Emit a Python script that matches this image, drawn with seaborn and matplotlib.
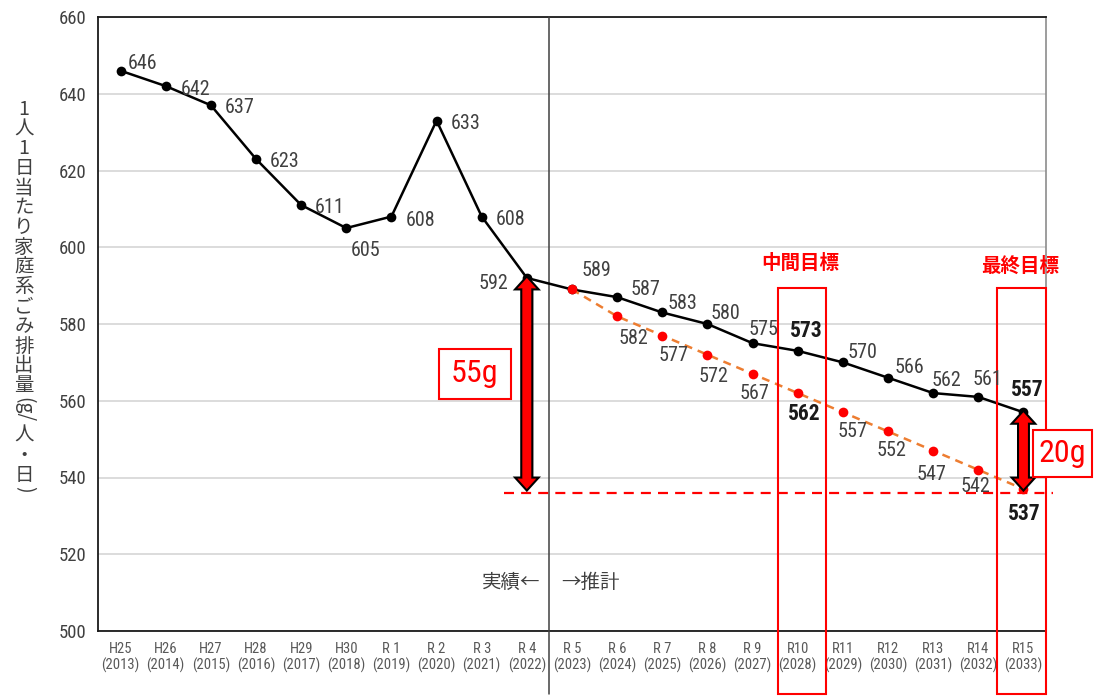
import numpy as np
import pandas as pd
import matplotlib
matplotlib.use("Agg")
import matplotlib.pyplot as plt
from matplotlib import font_manager as fm
from matplotlib.patches import Rectangle, FancyArrowPatch, ArrowStyle
import seaborn as sns

# ---- data -------------------------------------------------------------
era_labels = ["H25", "H26", "H27", "H28", "H29", "H30", "R 1", "R 2", "R 3", "R 4",
              "R 5", "R 6", "R 7", "R 8", "R 9", "R10", "R11", "R12", "R13", "R14", "R15"]
years = [2013, 2014, 2015, 2016, 2017, 2018, 2019, 2020, 2021, 2022,
         2023, 2024, 2025, 2026, 2027, 2028, 2029, 2030, 2031, 2032, 2033]
# actual results up to R4, trend projection afterwards (g per person per day)
trend_values = [646, 642, 637, 623, 611, 605, 608, 633, 608, 592,
                589, 587, 583, 580, 575, 573, 570, 566, 562, 561, 557]
# reduction target path from R5 to R15
target_start = 10
target_values = [589, 582, 577, 572, 567, 562, 557, 552, 547, 542, 537]
goal_line = 536
last_actual_idx = 9
mid_goal_idx = 15
final_goal_idx = 20

# ---- fonts --------------------------------------------------------------
sns.set_style("white")
available = {f.name for f in fm.fontManager.ttflist}
narrow = next((n for n in ["Liberation Sans Narrow", "Roboto Condensed",
                           "Open Sans Condensed", "Liberation Sans"] if n in available),
              "DejaVu Sans")
CJK = "Noto Sans CJK JP"
NUM = [narrow, CJK, "DejaVu Sans"]
JP = [CJK, "DejaVu Sans"]
plt.rcParams["font.family"] = NUM

GRAY = "#404040"

fig = plt.figure(figsize=(10.94, 6.97), dpi=100)
ax = fig.add_axes([98 / 1094, 66 / 697, 948 / 1094, 614 / 697])

pos = np.arange(len(era_labels))
df_trend = pd.DataFrame({"pos": pos, "value": trend_values})
df_target = pd.DataFrame({"pos": pos[target_start:], "value": target_values})

sns.lineplot(data=df_trend, x="pos", y="value", ax=ax, color="black", linewidth=1.8,
             marker="o", markersize=7, markerfacecolor="black",
             markeredgecolor="black", markeredgewidth=0, zorder=4)
sns.lineplot(data=df_target, x="pos", y="value", ax=ax, color="#ED7D31", linewidth=1.8,
             linestyle=(0, (3.2, 2.4)), marker="o", markersize=7,
             markerfacecolor="red", markeredgecolor="red", markeredgewidth=0, zorder=5)

# ---- axes ---------------------------------------------------------------
ax.set_xlim(-0.5, len(era_labels) - 0.5)
ax.set_ylim(500, 660)
ax.set_yticks(np.arange(500, 661, 20))
ax.yaxis.grid(True, color="#d9d9d9", linewidth=1.3)
ax.xaxis.grid(False)
ax.set_axisbelow(True)
ax.set_xlabel("")
ax.set_ylabel("")

ax.set_xticks(pos)
ax.set_xticklabels([f"{e}\n({y})" for e, y in zip(era_labels, years)],
                   fontsize=10.5, color="#595959", linespacing=1.1)
ax.set_xticks(np.arange(0.5, len(era_labels) - 1, 1), minor=True)
ax.tick_params(axis="x", which="major", length=0, pad=8)
ax.tick_params(axis="x", which="minor", direction="in", length=4, width=1.2, color="black")
ax.tick_params(axis="y", direction="in", length=4, width=1.2, labelsize=13.5,
               labelcolor=GRAY, pad=8)

for side in ["left", "bottom", "top"]:
    ax.spines[side].set_color("#1a1a1a")
    ax.spines[side].set_linewidth(1.3)
ax.spines["right"].set_color("#8c8c8c")
ax.spines["right"].set_linewidth(1.2)

# vertical divider between actual results and projections
ax.axvline(last_actual_idx + 0.5, ymin=-0.103, ymax=1, color=GRAY, linewidth=1.1,
           clip_on=False, zorder=3)
ax.text(9.31, 512.6, "実績←", family=JP, fontsize=14, color=GRAY, ha="right", va="center")
ax.text(9.77, 512.6, "→推計", family=JP, fontsize=14, color=GRAY, ha="left", va="center")

# target level line
ax.hlines(goal_line, 8.5, 20.65, colors="red", linewidth=1.6,
          linestyles=[(0, (4.5, 3.2))], clip_on=False, zorder=3)

# milestone frames
for idx, x0, x1, title, ty in [(mid_goal_idx, 14.56, 15.63, "中間目標", 595.9),
                               (final_goal_idx, 19.42, 20.5, "最終目標", 595.0)]:
    ax.add_patch(Rectangle((x0, 483.5), x1 - x0, 589.3 - 483.5, fill=False,
                           edgecolor="red", linewidth=1.5, clip_on=False, zorder=6))
    ax.text((x0 + x1) / 2 - 0.03, ty, title, family=JP, fontsize=14, fontweight="bold",
            color="red", ha="center", va="center")


# reduction arrows: two opposite "simple" arrows, outlined underneath and filled on top
HEAD_LEN = 7.5
ARROW = ArrowStyle.Simple(head_length=HEAD_LEN, head_width=13.6, tail_width=6.2)


def double_arrow(x, top, bottom):
    for z, fc, ec, lw in [(7, "black", "black", 3.0), (7.5, "red", "none", 0.0)]:
        for a, b in [((x, top), (x, bottom)), ((x, bottom), (x, top))]:
            ax.add_patch(FancyArrowPatch(a, b, arrowstyle=ARROW, mutation_scale=1,
                                         shrinkA=HEAD_LEN, shrinkB=0, facecolor=fc,
                                         edgecolor=ec, linewidth=lw, zorder=z,
                                         joinstyle="miter"))


double_arrow(last_actual_idx, trend_values[last_actual_idx], target_values[-1])
double_arrow(final_goal_idx, trend_values[final_goal_idx], target_values[-1])

# reduction amount boxes
for (x0, x1, y0, y1), amount in [((7.05, 8.65, 560.5, 573.45),
                                  trend_values[last_actual_idx] - target_values[-1]),
                                 ((20.21, 21.52, 540.2, 552.4),
                                  trend_values[final_goal_idx] - target_values[-1])]:
    ax.add_patch(Rectangle((x0, y0), x1 - x0, y1 - y0, facecolor="white",
                           edgecolor="red", linewidth=1.5, clip_on=False, zorder=8))
    ax.text((x0 + x1) / 2, (y0 + y1) / 2, f"{amount}g", fontsize=23, color="red",
            ha="center", va="center", zorder=9, clip_on=False)

# value labels (offsets in pixels: right, up)
trend_offsets = [(22, 9), (30, -2), (29, -1), (29, -1), (29, -1), (19, -21), (29, -2),
                 (29, -1), (29, -1), (-33, -4), (24, 21), (28, 9), (20, 11), (18, 12),
                 (11, 15), (9, 22), (20, 12), (21, 12), (13, 14), (9, 19), (4, 24)]
target_offsets = [None, (16, -20), (11, -18), (6, -20), (2, -18), (7, -19), (10, -18),
                  (4, -17), (-2, -22), (-3, -15), (1, -23)]
milestones = {mid_goal_idx, final_goal_idx}


def value_label(i, v, off):
    bold = i in milestones
    size = 15.5 if bold else 14.5
    half_cap = 7.8 if bold else 7.2
    ax.annotate(str(v), (i, v), xytext=(off[0], off[1] - half_cap),
                textcoords="offset pixels", ha="center", va="baseline",
                fontsize=size, fontweight="bold" if bold else "normal",
                color="#1a1a1a" if bold else GRAY, zorder=10)


for i, (v, off) in enumerate(zip(trend_values, trend_offsets)):
    value_label(i, v, off)
for k, (v, off) in enumerate(zip(target_values, target_offsets)):
    if off is not None:
        value_label(target_start + k, v, off)

# vertical (tategaki) axis title: upright blocks plus rotated brackets
tx = 24 / 1094
fig.text(tx, 1 - 99 / 697, "\n".join("1人1日当たり家庭系ごみ排出量"), family=JP,
         fontsize=14, color=GRAY, ha="center", va="top", linespacing=0.92)
fig.text(tx, 1 - 410 / 697, "(g/", family=JP, fontsize=14, color=GRAY,
         ha="center", va="center", rotation=-90)
fig.text(tx, 1 - 455 / 697, "\n".join("人・日"), family=JP, fontsize=14, color=GRAY,
         ha="center", va="center", linespacing=0.95)
fig.text(tx, 1 - 489 / 697, ")", family=JP, fontsize=14, color=GRAY,
         ha="center", va="center", rotation=-90)

fig.savefig("out.png", dpi=100)
